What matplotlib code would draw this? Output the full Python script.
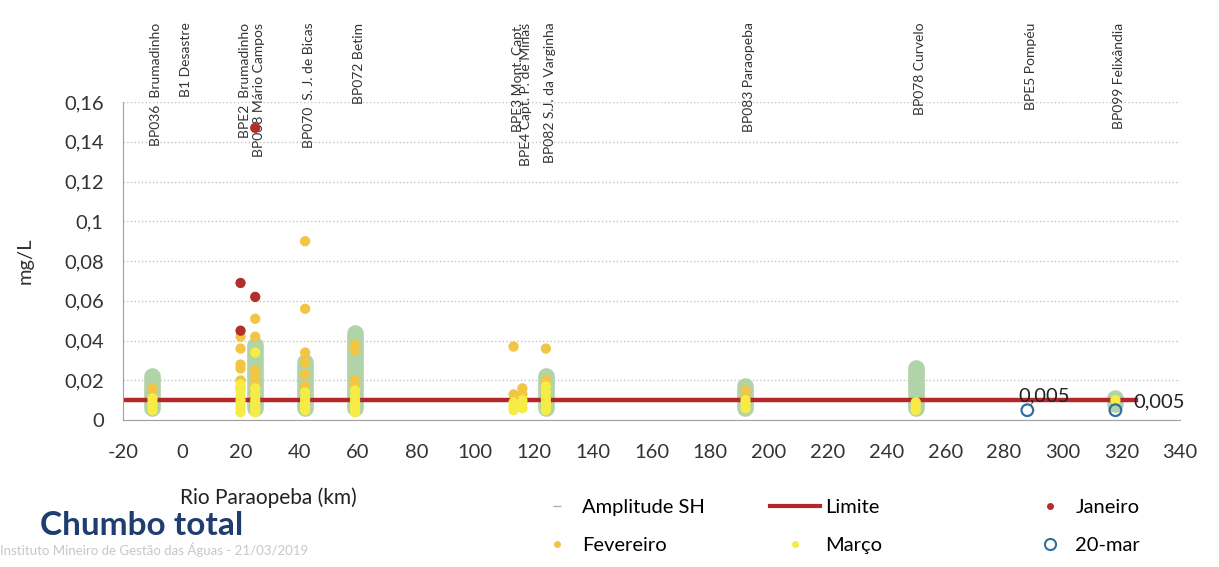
#Chumbo total no Rio Paraopeba - concentracoes por estacao (km)
import numpy as np
import matplotlib.pyplot as plt
import matplotlib.transforms as mtransforms
from matplotlib.lines import Line2D

plt.rcParams['font.family'] = ['Lato', 'DejaVu Sans']
plt.rcParams['axes.unicode_minus'] = False

#1. dados
estacoes = ['BP036  Brumadinho', 'B1 Desastre', 'BPE2  Brumadinho', 'BP068 Mário Campos',
            'BP070  S. J. de Bicas', 'BP072 Betim', 'BPE3 Mont. Capt.', 'BPE4 Capt. P. de Minas',
            'BP082 S.J. da Varginha', 'BP083 Paraopeba', 'BP078 Curvelo', 'BPE5 Pompéu',
            'BP099 Felixândia']
estacoes_km = [-10, 0, 20, 25, 42, 59, 113, 116, 124, 192, 250, 288, 318]

#amplitude serie historica (min - max)
amp_km = [-10, 25, 42, 59, 124, 192, 250, 318]
amp_min = [0.006, 0.006, 0.006, 0.006, 0.006, 0.006, 0.006, 0.008]
amp_max = [0.022, 0.038, 0.029, 0.044, 0.022, 0.017, 0.026, 0.011]

#limite (mg/L)
lim_km = [-20, 325]
lim_val = [0.01, 0.01]

jan_km = [20, 20, 25, 25]
jan_val = [0.069, 0.045, 0.062, 0.147]

fev_km = [-10, -10, 20, 20, 20, 20, 20, 20, 25, 25, 25, 25, 25, 25,
          42, 42, 42, 42, 42, 42, 59, 59, 59, 59, 113, 113, 116, 116,
          124, 124, 192, 192, 250]
fev_val = [0.016, 0.012, 0.042, 0.036, 0.028, 0.026, 0.020, 0.016,
           0.051, 0.042, 0.025, 0.022, 0.018, 0.014,
           0.090, 0.056, 0.034, 0.029, 0.023, 0.017,
           0.038, 0.035, 0.020, 0.018, 0.037, 0.013, 0.016, 0.013,
           0.036, 0.020, 0.015, 0.012, 0.008]

mar_km = [-10, -10, -10, -10, 20, 20, 20, 20, 20, 20, 20,
          25, 25, 25, 25, 25, 25, 25, 42, 42, 42, 42, 42,
          59, 59, 59, 59, 59, 59, 113, 113, 113, 116, 116, 116,
          124, 124, 124, 124, 124, 124, 192, 192, 192, 250, 250, 250, 318]
mar_val = [0.011, 0.009, 0.007, 0.005,
           0.018, 0.015, 0.012, 0.010, 0.008, 0.006, 0.004,
           0.034, 0.016, 0.013, 0.010, 0.008, 0.006, 0.004,
           0.014, 0.011, 0.009, 0.007, 0.005,
           0.015, 0.012, 0.010, 0.008, 0.006, 0.004,
           0.009, 0.007, 0.005, 0.010, 0.008, 0.006,
           0.017, 0.014, 0.011, 0.009, 0.007, 0.005,
           0.010, 0.008, 0.006, 0.009, 0.007, 0.005, 0.010]

mar20_km = [288, 318]
mar20_val = [0.005, 0.005]

#cores
c_amp = '#a9cf9f'
c_lim = '#b5262b'
c_jan = '#b0302c'
c_fev = '#f2c544'
c_mar = '#f7ec45'
c_m20 = '#2f6f9f'

#2. grafico
fig = plt.figure(figsize=(12.19, 5.67), dpi=100)
ax = fig.add_axes([0.101, 0.259, 0.867, 0.561])

amp = ax.vlines(amp_km, amp_min, amp_max, colors=c_amp, lw=12, alpha=0.9, zorder=1)
amp.set_capstyle('round')
ax.scatter(amp_km, amp_min, marker='_', color='#b0b0b0', s=40, zorder=1)

ax.plot(lim_km, lim_val, color=c_lim, lw=3.2, zorder=2)

ax.scatter(fev_km, fev_val, color=c_fev, s=55, edgecolors='none', zorder=3)
ax.scatter(mar_km, mar_val, color=c_mar, s=55, edgecolors='none', zorder=4)
ax.scatter(jan_km, jan_val, color=c_jan, s=55, edgecolors='none', zorder=5)
ax.scatter(mar20_km, mar20_val, facecolors='none', edgecolors=c_m20, s=70, lw=1.6, zorder=6)

#rotulos 0,005
fmt = lambda v: '{:g}'.format(v).replace('.', ',')
ax.annotate(fmt(mar20_val[0]), (mar20_km[0], mar20_val[0]), xytext=(12, 10),
            textcoords='offset points', ha='center', va='center', fontsize=14.5, color='#222222')
ax.annotate(fmt(mar20_val[1]), (mar20_km[1], mar20_val[1]), xytext=(13, 6),
            textcoords='offset points', ha='left', va='center', fontsize=14.5, color='#222222')

#nomes das estacoes
trans = mtransforms.blended_transform_factory(ax.transData, ax.transAxes)
trans = mtransforms.offset_copy(trans, fig=fig, x=4, y=0, units='dots')
for k, nome in zip(estacoes_km, estacoes):
    ax.text(k, 1.25, nome, transform=trans, rotation=90, ha='center', va='top',
            fontsize=10, color='#333333', clip_on=False)

#eixos
ax.set_xlim(-20, 340)
ax.set_ylim(0, 0.16)
ax.set_xticks(np.arange(-20, 341, 20))
yt = np.arange(0, 0.161, 0.02)
ax.set_yticks(yt)
ax.set_yticklabels([fmt(round(v, 2)) for v in yt])
ax.tick_params(length=0, labelsize=14.5, labelcolor='#333333')
ax.tick_params(axis='x', pad=17)
ax.tick_params(axis='y', pad=14)
ax.yaxis.grid(True, linestyle=':', color='#c4c4c4', lw=1)
ax.set_axisbelow(True)
for s in ['top', 'right']:
    ax.spines[s].set_visible(False)
for s in ['left', 'bottom']:
    ax.spines[s].set_color('#a0a0a0')
ax.set_ylabel('mg/L', fontsize=14.5, color='#333333')
ax.yaxis.set_label_coords(-0.085, 0.5)

fig.text(0.148, 0.123, 'Rio Paraopeba (km)', fontsize=15, color='#222222', va='center')
fig.text(0.033, 0.073, 'Chumbo total', fontsize=24, fontweight='bold', color='#1f3d6e', va='center')
fig.text(0.0, 0.030, 'Instituto Mineiro de Gestão das Águas - 21/03/2019', fontsize=9.5,
         color='#c8c8c8', va='center')

#3. legenda em tres colunas
h_amp = Line2D([], [], ls='none', marker='_', color='#b0b0b0', ms=6)
h_fev = Line2D([], [], ls='none', marker='o', color=c_fev, ms=4)
h_lim = Line2D([], [], color=c_lim, lw=3)
h_mar = Line2D([], [], ls='none', marker='o', color=c_mar, ms=4)
h_jan = Line2D([], [], ls='none', marker='o', color=c_jan, ms=4)
h_m20 = Line2D([], [], ls='none', marker='o', mfc='none', mec=c_m20, ms=8, mew=1.5)

kw = dict(loc='upper left', frameon=False, fontsize=14.5, borderpad=0, borderaxespad=0,
          labelspacing=1.05)
top = 1 - 499 / 567
leg1 = fig.legend([h_amp, h_fev], ['Amplitude SH', 'Fevereiro'], bbox_to_anchor=(542 / 1219, top),
                  handlelength=1.5, handletextpad=0.5, **kw)
leg2 = fig.legend([h_lim, h_mar], ['Limite', 'Março'], bbox_to_anchor=(770 / 1219, top),
                  handlelength=2.5, handletextpad=0.25, **kw)
leg3 = fig.legend([h_jan, h_m20], ['Janeiro', '20-mar'], bbox_to_anchor=(1035 / 1219, top),
                  handlelength=1.5, handletextpad=0.5, **kw)

plt.savefig('out.png', dpi=100)
